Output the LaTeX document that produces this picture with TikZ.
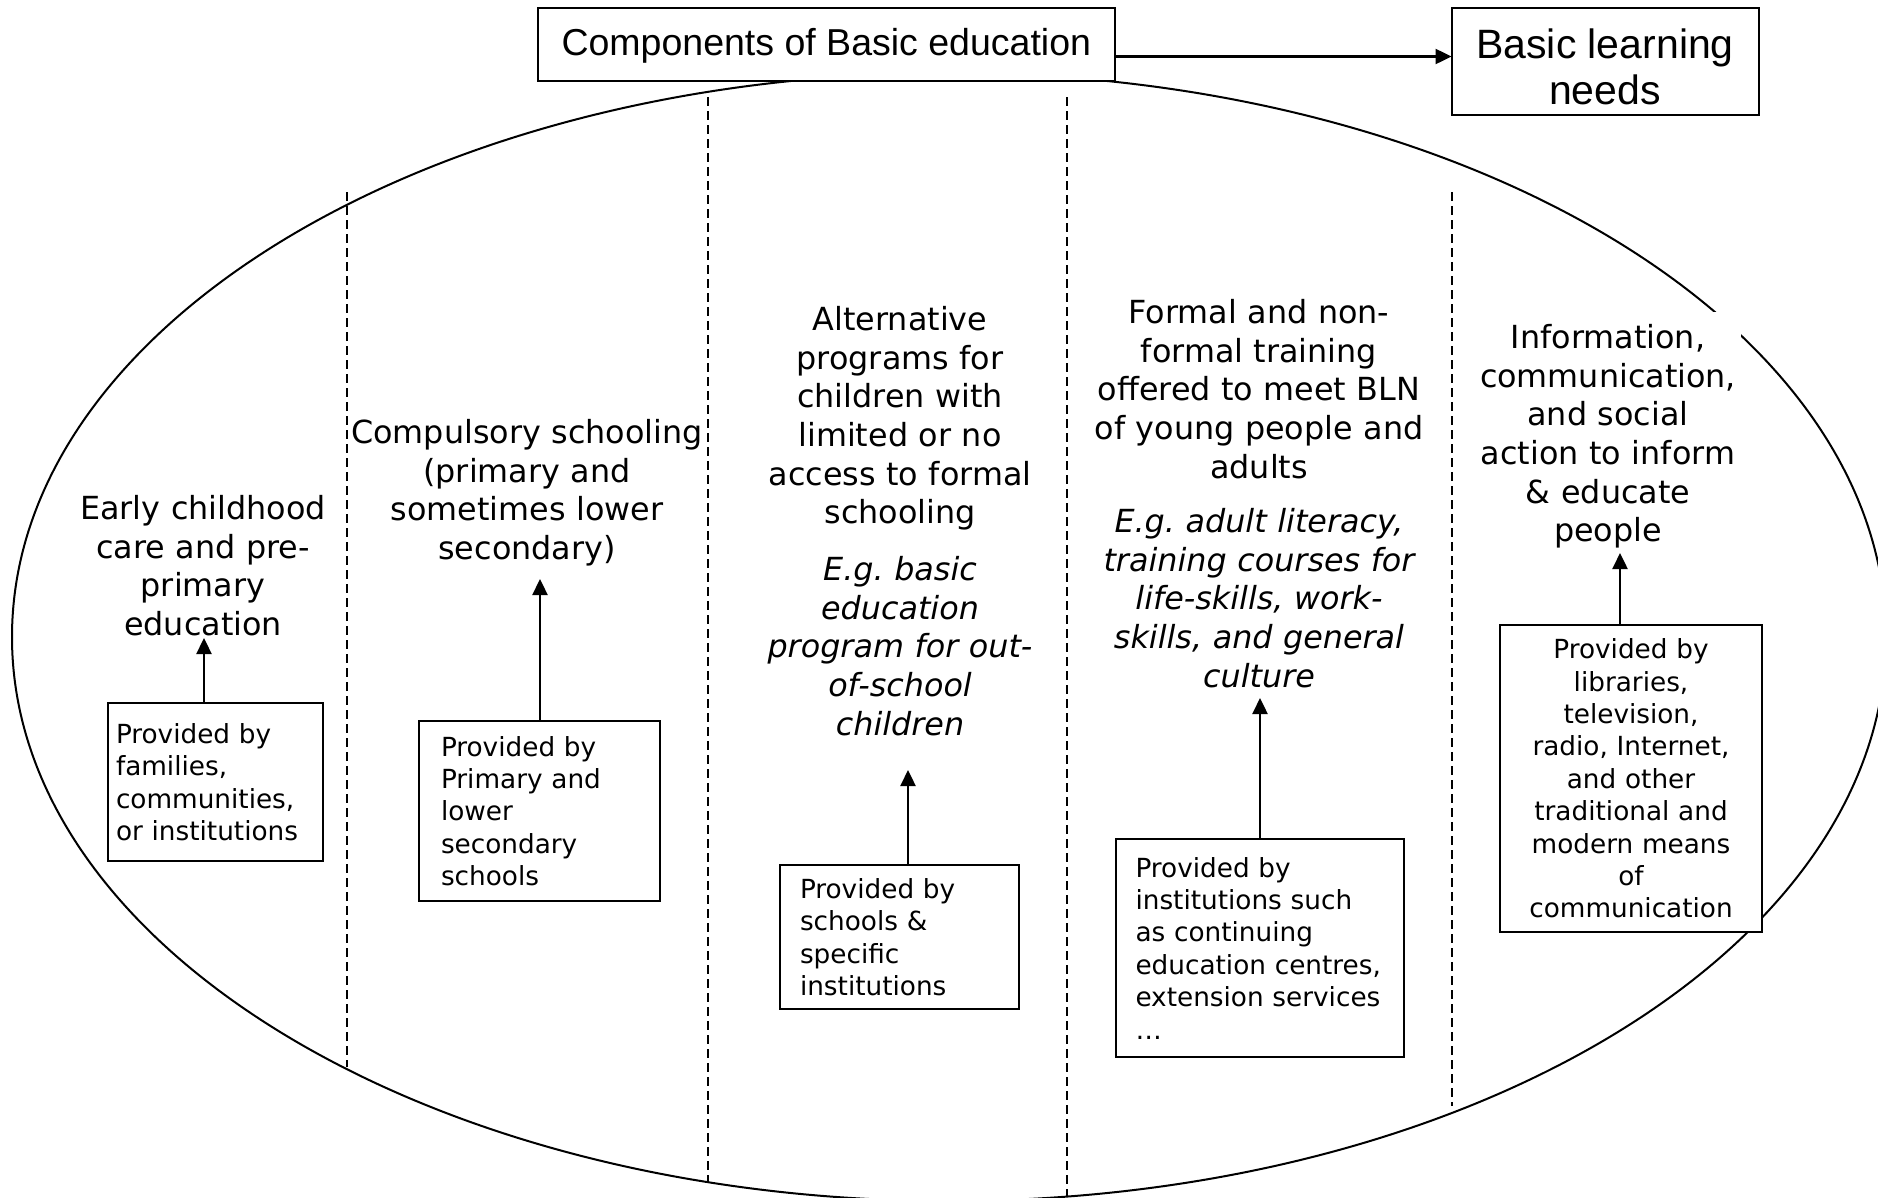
\documentclass[tikz,border=0pt]{standalone}
\usepackage{fontspec}
\setmainfont{DejaVu Sans}
\newfontfamily\arialfont{Liberation Sans}
\usetikzlibrary{arrows.meta}
\frenchspacing
\hyphenpenalty=10000
\begin{document}
\begin{tikzpicture}[x=1pt,y=-1pt,
  coltext/.style={font=\fontsize{31.8}{38.7}\selectfont, align=center, inner sep=0pt, anchor=north, text width=420pt},
  provbox/.style={draw, line width=2pt, fill=white, anchor=north west, outer sep=0pt,
    font=\fontsize{26.3}{32.4}\selectfont, align=left, inner ysep=0pt},
  topbox/.style={draw, line width=2pt, fill=white, inner sep=0pt, outer sep=0pt, align=center},
  arr/.style={line width=2.4pt, -{Triangle[length=16pt,width=15pt]}},
  divider/.style={line width=1.8pt, dash pattern=on 9pt off 5pt}]
\useasboundingbox (0,0) rectangle (1878,1197);
\fill[white] (0,0) rectangle (1878,1197);
\clip (0,0) rectangle (1878,1197);

% big ellipse
\draw[line width=2pt] (949,637) ellipse [x radius=937pt, y radius=564pt];

% dividers
\draw[divider] (347,192) -- (347,1067);
\draw[divider] (708,97) -- (708,1182);
\draw[divider] (1067,97) -- (1067,1197);
\draw[divider] (1452,192) -- (1452,1106);

% top boxes
\node[topbox, minimum width=577pt, minimum height=72.7pt, font=\arialfont\fontsize{37.5}{43}\selectfont]
  (A) at (826.3,44.7) {\rule{0pt}{30pt}Components of Basic education};
\node[topbox, minimum width=307pt, minimum height=106.7pt, font=\arialfont\fontsize{41}{45.5}\selectfont]
  (B) at (1605,61.7) {\rule{0pt}{40pt}Basic learning\\needs};

% column texts
\node[coltext] (t1) at (203,495) {Early childhood\\care and pre-\\primary\\education};
\node[coltext] (t2) at (527,419) {Compulsory schooling\\(primary and\\sometimes lower\\secondary)};
\node[coltext] (t3) at (900,306) {Alternative\\programs for\\children with\\limited or no\\access to formal\\schooling\\[17.8pt]\itshape E.g. basic\\education\\program for out-\\of-school\\children};
\node[coltext] (t4) at (1259,299) {Formal and non-\\formal training\\offered to meet BLN\\of young people and\\adults\\[15.7pt]\itshape E.g. adult literacy,\\training courses for\\life-skills, work-\\skills, and general\\culture};
\node[coltext, fill=white, text width=262pt, inner xsep=2pt, inner ysep=12pt] (t5) at (1608,312)
  {Information,\\communication,\\and social\\action to inform\\\& educate\\people};

% provider boxes
\node[provbox, text width=199pt, inner xsep=8pt, minimum height=158pt] (b1) at (108,703)
  {\rule{0pt}{14pt}Provided by\\families,\\communities,\\or institutions};
\node[provbox, text width=197pt, inner xsep=22pt, minimum height=180pt] (b2) at (419,721)
  {Provided by\\Primary and\\lower\\secondary\\schools};
\node[provbox, text width=199pt, inner xsep=20pt, minimum height=144pt] (b3) at (780,865)
  {Provided by\\schools \&\\specific\\institutions};
\node[provbox, text width=249pt, inner xsep=19.5pt, minimum height=218pt] (b4) at (1116,839)
  {Provided by\\institutions such\\as continuing\\education centres,\\extension services\\…};
\node[provbox, align=center, text width=246pt, inner xsep=8pt, minimum height=307pt] (b5) at (1500,625)
  {Provided by\\libraries,\\television,\\radio, Internet,\\and other\\traditional and\\modern means\\of\\communication};

% arrows
\coordinate (pa) at (0,56.5);
\draw[arr] (A.east |- pa) -- (B.west |- pa);
\coordinate (p1) at (204,638);
\coordinate (p2) at (540,579);
\coordinate (p3) at (908,770);
\coordinate (p4) at (1260,698);
\coordinate (p5) at (1620,553);
\draw[arr] (p1 |- b1.north) -- (p1);
\draw[arr] (p2 |- b2.north) -- (p2);
\draw[arr] (p3 |- b3.north) -- (p3);
\draw[arr] (p4 |- b4.north) -- (p4);
\draw[arr] (p5 |- b5.north) -- (p5);
\end{tikzpicture}
\end{document}
